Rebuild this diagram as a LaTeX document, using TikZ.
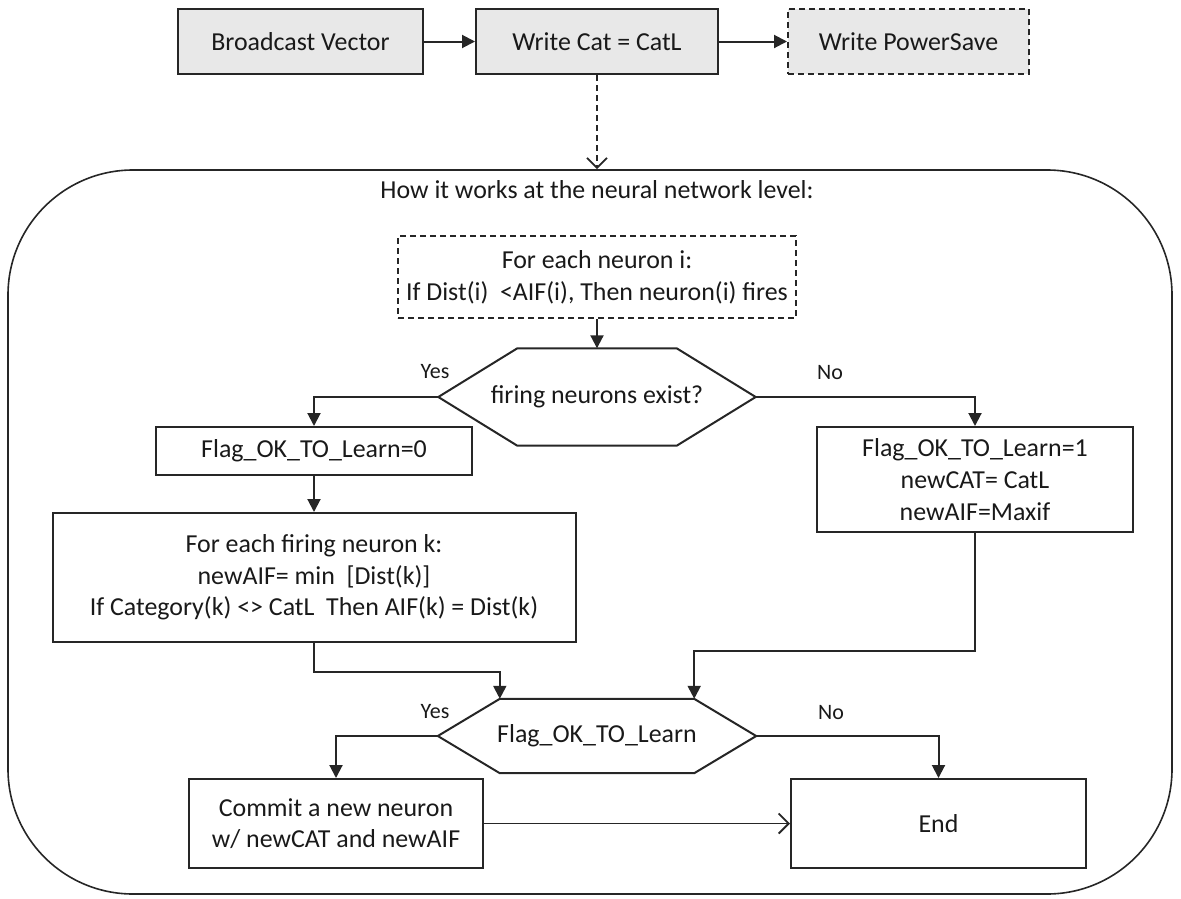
\documentclass[tikz,border=0pt]{standalone}
\usepackage{fontspec}
\setmainfont{Carlito}
\usetikzlibrary{arrows.meta,calc}
\begin{document}
\begin{tikzpicture}[x=1pt,y=-1pt,
  every node/.style={font=\fontsize{25.9}{31.6}\selectfont, align=center, inner sep=0pt, text=black!90},
  box/.style={draw=black!85, line width=2pt, rectangle},
  topbox/.style={box, fill=black!9},
  dbox/.style={box, dash pattern=on 6pt off 4pt},
  lbl/.style={font=\fontsize{22}{26}\selectfont},
  arr/.style={draw=black!85, line width=2pt, -{Triangle[length=13pt,width=13pt]}},
  varr/.style={draw=black!85, line width=1.8pt, -{Straight Barb[length=10pt,width=20pt]}},
  hex/.style={draw=black!85, line width=2pt, line join=miter},
]
\useasboundingbox (0,0) rectangle (1181,898);

% top row
\node (bv) [topbox, minimum width=245pt, minimum height=65pt] at (300.5,41.5) {Broadcast Vector};
\node (wc) [topbox, minimum width=242pt, minimum height=65pt] at (597,41.5) {Write Cat = CatL};
\node (ps) [topbox, dash pattern=on 6pt off 4pt, minimum width=241pt, minimum height=65pt] at (908.5,41.5) {Write PowerSave};

% frame
\node (frame) [draw=black!85, line width=1.6pt, rounded corners=125pt, minimum width=1164pt, minimum height=724pt] at (590,532) {};
\node (title) at (597,190) {How it works at the neural network level:};

% inner nodes
\node (nb) [dbox, minimum width=398pt, minimum height=82pt] at (597,277) {For each neuron i:\\If Dist(i)\ \ {<}AIF(i), Then neuron(i) fires};
\node (h1) [minimum width=317pt, minimum height=97pt] at (597,397) {firing neurons exist?};
\node (f0) [box, minimum width=316pt, minimum height=48pt] at (314,451) {Flag\_OK\_TO\_Learn=0};
\node (fe) [box, minimum width=523pt, minimum height=129pt] at (314,577.5) {For each firing neuron k:\\newAIF= min\ \ [Dist(k)]\\If Category(k) {<}{>} CatL\ \ Then AIF(k) = Dist(k)};
\node (f1) [box, minimum width=316pt, minimum height=105pt] at (975,479.5) {Flag\_OK\_TO\_Learn=1\\newCAT= CatL\\newAIF=Maxif};
\node (h2) [minimum width=318pt, minimum height=74pt] at (597,736) {Flag\_OK\_TO\_Learn};
\node (cm) [box, minimum width=294pt, minimum height=89pt] at (336,823.5) {Commit a new neuron\\w/ newCAT and newAIF};
\node (en) [box, minimum width=295pt, minimum height=89pt] at (938.5,823.5) {End};

% labels
\node (y1) [lbl] at (435,372) {Yes};
\node (n1) [lbl] at (830,373) {No};
\node (y2) [lbl] at (435,712) {Yes};
\node (n2) [lbl] at (831,713) {No};

% hexagon outlines
\coordinate (h1tl) at ($(h1.north west)+(79,0)$);
\coordinate (h1tr) at ($(h1.north east)+(-79,0)$);
\coordinate (h1bl) at ($(h1.south west)+(79,0)$);
\coordinate (h1br) at ($(h1.south east)+(-79,0)$);
\draw[hex] (h1.west) -- (h1tl) -- (h1tr) -- (h1.east) -- (h1br) -- (h1bl) -- cycle;
\coordinate (h2tl) at ($(h2.north west)+(62,0)$);
\coordinate (h2tr) at ($(h2.north east)+(-62,0)$);
\coordinate (h2bl) at ($(h2.south west)+(62,0)$);
\coordinate (h2br) at ($(h2.south east)+(-62,0)$);
\draw[hex] (h2.west) -- (h2tl) -- (h2tr) -- (h2.east) -- (h2br) -- (h2bl) -- cycle;

% connectors
\draw[arr] (bv.east) -- (wc.west);
\draw[arr] (wc.east) -- (ps.west);
\draw[varr, dash pattern=on 6pt off 4pt] (wc.south) -- (wc.south |- frame.north);
\draw[arr] (nb.south) -- (h1.north);
\draw[arr] (h1.west) -| (f0.north);
\draw[arr] (h1.east) -| (f1.north);
\draw[arr] (f0.south) -- (fe.north);
\draw[arr] (fe.south) -- ++(0,29) -| (h2tl);
\draw[arr] (f1.south) -- ++(0,118) -| (h2tr);
\draw[arr] (h2.west) -| (cm.north);
\draw[arr] (h2.east) -| (en.north);
\draw[varr] (cm.east) -- (en.west);
\end{tikzpicture}
\end{document}
